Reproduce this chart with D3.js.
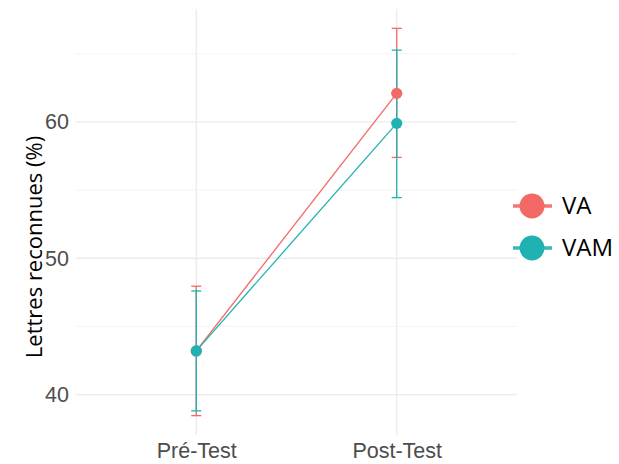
<!DOCTYPE html>
<html><head><meta charset="utf-8">
<script src="https://cdn.jsdelivr.net/npm/d3@7"></script>
<style>body{margin:0;background:#fff}</style>
</head><body>
<svg id="c" width="619" height="464"></svg>
<script>
const categories = ["Pré-Test", "Post-Test"];
const seriesNames = ["VA", "VAM"];
const meanVA = [43.2, 62.1];
const meanVAM = [43.2, 59.9];
const lowVA = [38.45, 57.4];
const highVA = [47.95, 66.87];
const lowVAM = [38.8, 54.45];
const highVAM = [47.6, 65.27];
const yTicks = [40, 50, 60];
const yMinor = [45, 55, 65];
const colors = ["#F26966", "#20B2B2"];

const series = [
  {name: seriesNames[0], mean: meanVA, low: lowVA, high: highVA, color: colors[0]},
  {name: seriesNames[1], mean: meanVAM, low: lowVAM, high: highVAM, color: colors[1]}
];

const svg = d3.select("#c");
const panel = {left: 76, right: 517, top: 9, bottom: 435};

const x = d3.scalePoint().domain(categories).range([panel.left, panel.right]).padding(0.6);
const y = d3.scaleLinear().domain([37.03, 68.29]).range([panel.bottom, panel.top]);

// minor gridlines
svg.append("g").selectAll("line").data(yMinor).join("line")
  .attr("x1", panel.left).attr("x2", panel.right)
  .attr("y1", d => y(d)).attr("y2", d => y(d))
  .attr("stroke", "#F4F4F4").attr("stroke-width", 1);
// major gridlines
svg.append("g").selectAll("line").data(yTicks).join("line")
  .attr("x1", panel.left).attr("x2", panel.right)
  .attr("y1", d => y(d)).attr("y2", d => y(d))
  .attr("stroke", "#EBEBEB").attr("stroke-width", 1.3);
svg.append("g").selectAll("line").data(categories).join("line")
  .attr("x1", d => x(d)).attr("x2", d => x(d))
  .attr("y1", panel.top).attr("y2", panel.bottom)
  .attr("stroke", "#EBEBEB").attr("stroke-width", 1.3);

// axes
const yAxis = svg.append("g").attr("transform", `translate(${panel.left},0)`)
  .call(d3.axisLeft(y).tickValues(yTicks).tickSize(0).tickPadding(7));
yAxis.select(".domain").remove();
yAxis.selectAll("text").attr("fill", "#4D4D4D").attr("font-family", "Liberation Sans, Arial, sans-serif").attr("font-size", 21.5);

const xAxis = svg.append("g").attr("transform", `translate(0,${panel.bottom})`)
  .call(d3.axisBottom(x).tickSize(0).tickPadding(8));
xAxis.select(".domain").remove();
xAxis.selectAll("text").attr("fill", "#4D4D4D").attr("font-family", "Liberation Sans, Arial, sans-serif").attr("font-size", 21.5);

// y title
svg.append("text").attr("transform", "translate(42,247) rotate(-90)")
  .attr("text-anchor", "middle").attr("font-family", "Open Sans, sans-serif")
  .attr("font-size", 22).attr("fill", "#000").text("Lettres reconnues (%)");

const line = d3.line().x((d, i) => x(categories[i])).y(d => y(d));

// lines
series.forEach(s => {
  svg.append("path").datum(s.mean).attr("d", line)
    .attr("fill", "none").attr("stroke", s.color).attr("stroke-width", 1.3);
});
// error bars
series.forEach(s => {
  const g = svg.append("g").attr("stroke", s.color).attr("stroke-width", 1.3);
  categories.forEach((c, i) => {
    g.append("line").attr("x1", x(c)).attr("x2", x(c)).attr("y1", y(s.low[i])).attr("y2", y(s.high[i]));
    g.append("line").attr("x1", x(c) - 5).attr("x2", x(c) + 5).attr("y1", y(s.low[i])).attr("y2", y(s.low[i]));
    g.append("line").attr("x1", x(c) - 5).attr("x2", x(c) + 5).attr("y1", y(s.high[i])).attr("y2", y(s.high[i]));
  });
});
// points
series.forEach(s => {
  svg.append("g").selectAll("circle").data(s.mean).join("circle")
    .attr("cx", (d, i) => x(categories[i])).attr("cy", d => y(d))
    .attr("r", 5.6).attr("fill", s.color);
});

// legend
const leg = svg.append("g");
series.forEach((s, i) => {
  const cy = 206 + i * 42;
  leg.append("line").attr("x1", 513).attr("x2", 552).attr("y1", cy).attr("y2", cy)
    .attr("stroke", s.color).attr("stroke-width", 3.5).attr("opacity", 0.9);
  leg.append("circle").attr("cx", 532).attr("cy", cy).attr("r", 12.5).attr("fill", s.color);
  leg.append("text").attr("x", 562).attr("y", cy).attr("dy", "0.35em")
    .attr("font-family", "Open Sans, sans-serif").attr("font-size", 24).attr("fill", "#000")
    .text(s.name);
});
</script>
</body></html>
